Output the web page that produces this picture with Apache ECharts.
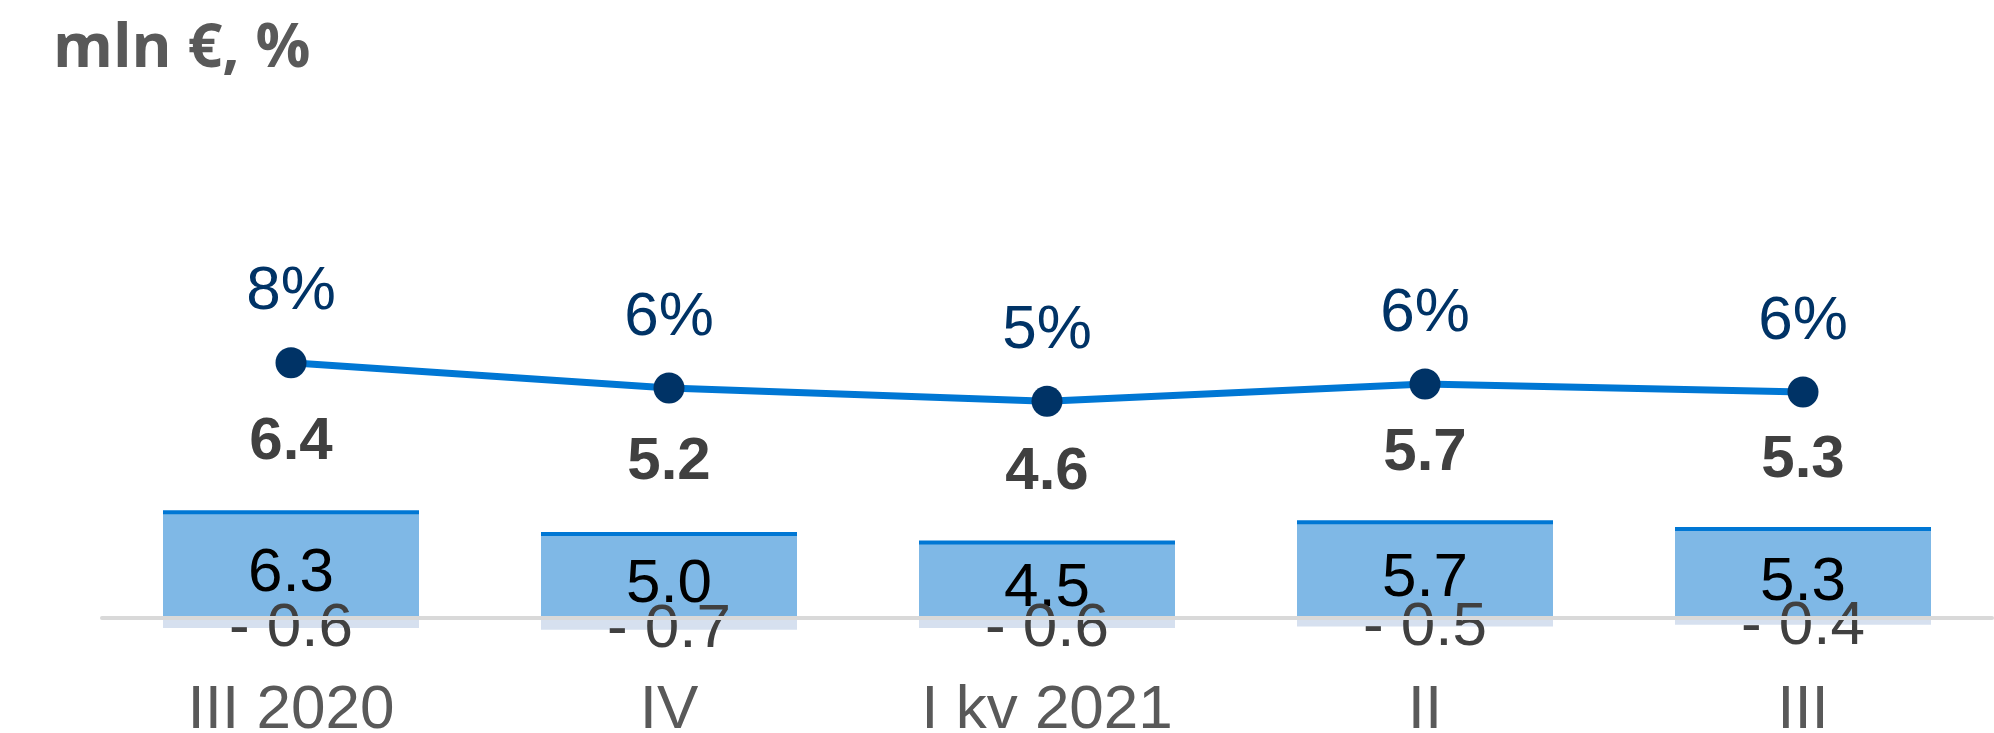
<!DOCTYPE html>
<html>
<head>
<meta charset="utf-8">
<title>mln €, %</title>
<script src="https://cdn.jsdelivr.net/npm/echarts@6/dist/echarts.min.js"></script>
<style>
	html,body{margin:0;padding:0;background:#fff;}
	#chart{width:1994px;height:733px;}
</style>
</head>
<body>
<div id="chart"></div>
<script>
// 季度
var categories=['III 2020','IV','I kv 2021','II','III'];
// 柱子正值部分
var grossValues=[6.3,5.0,4.5,5.7,5.3];
// 柱子负值部分
var deductValues=[-0.6,-0.7,-0.6,-0.5,-0.4];
// 粗体合计
var totalValues=[6.4,5.2,4.6,5.7,5.3];
// 折线 %
var shareValues=[7.9,6.0,5.0,6.3,5.7];

var FONT='"Liberation Sans", Arial, sans-serif';

var myChart=echarts.init(document.getElementById('chart'));
var option={
	animation:false,
	title:{
		text:'mln €, %',
		left:48,
		top:14,
		textStyle:{
			fontFamily:'"Open Sans", sans-serif',
			fontWeight:'bold',
			fontSize:61,
			color:'#595959'
		}
	},
	//网格底边就是零线
	grid:{
		left:102,
		right:2,
		top:114,
		bottom:115,
		containLabel:false,
		outerBoundsMode:'none'
	},
	xAxis:[{
		type:'category',
		data:categories,
		z:3,
		axisLine:{onZero:false,lineStyle:{color:'#d9d9d9',width:4}},
		axisTick:{show:false},
		axisLabel:{
			fontFamily:FONT,
			fontSize:62,
			lineHeight:62,
			color:'#595959',
			margin:62
		}
	}],
	yAxis:[{
		type:'value',
		show:false,
		min:0,
		max:30,
		splitLine:{show:false}
	},{
		type:'value',
		show:false,
		min:-11.3,
		max:26.6,
		splitLine:{show:false}
	}],
	series:[{
		name:'gross',
		type:'bar',
		stack:'a',
		clip:false,
		barWidth:256,
		data:grossValues,
		itemStyle:{color:'#7fb8e6'},
		label:{
			show:true,
			position:'inside',
			offset:[0,9],
			fontFamily:FONT,
			fontSize:62,
			color:'#000',
			formatter:function(p){return p.value.toFixed(1);}
		}
	},{
		name:'deduct',
		type:'bar',
		stack:'a',
		clip:false,
		barWidth:256,
		data:deductValues,
		itemStyle:{color:'#d6e0ef'},
		label:{
			show:true,
			position:'inside',
			offset:[0,6],
			fontFamily:FONT,
			fontSize:62,
			color:'#404040',
			formatter:function(p){return '- '+Math.abs(p.value).toFixed(1);}
		}
	},{
		// 柱顶蓝线
		name:'edge',
		type:'pictorialBar',
		barWidth:256,
		symbol:'rect',
		symbolSize:['100%',4],
		symbolPosition:'end',
		symbolOffset:[0,'-50%'],
		data:grossValues,
		itemStyle:{color:'#0077d4'},
		z:3
	},{
		name:'share',
		type:'line',
		yAxisIndex:1,
		data:shareValues,
		symbol:'circle',
		symbolSize:31,
		lineStyle:{color:'#0077d4',width:7},
		itemStyle:{color:'#003366'},
		z:5,
		label:{
			show:true,
			position:'top',
			distance:24,
			fontFamily:FONT,
			fontSize:62,
			color:'#003366',
			formatter:function(p){return Math.round(p.value)+'%';}
		}
	},{
		name:'total',
		type:'scatter',
		data:totalValues,
		symbolSize:1,
		itemStyle:{color:'rgba(0,0,0,0)',opacity:1},
		label:{
			show:true,
			position:'top',
			distance:38,
			fontFamily:FONT,
			fontWeight:'bold',
			fontSize:60,
			color:'#404040',
			formatter:function(p){return p.value.toFixed(1);}
		}
	}]
};
myChart.setOption(option);
</script>
</body>
</html>
